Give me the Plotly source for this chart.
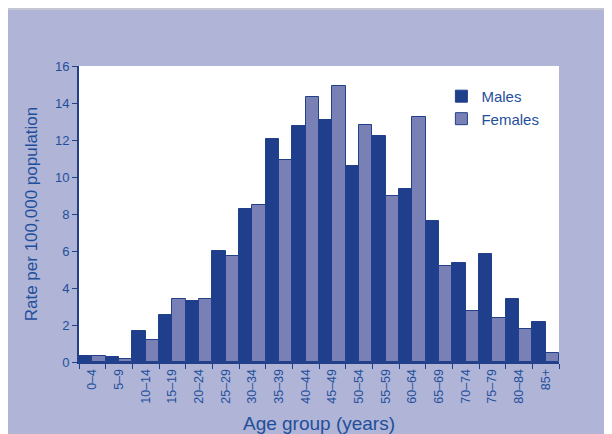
import plotly.graph_objects as go

age_groups = ["0–4", "5–9", "10–14", "15–19", "20–24", "25–29", "30–34", "35–39", "40–44",
              "45–49", "50–54", "55–59", "60–64", "65–69", "70–74", "75–79", "80–84", "85+"]
males = [0.32, 0.29, 1.70, 2.56, 3.30, 6.00, 8.25, 12.04, 12.76, 13.10, 10.60, 12.20, 9.37,
         7.62, 5.33, 5.86, 3.41, 2.18]
females = [0.33, 0.15, 1.17, 3.41, 3.39, 5.75, 8.50, 10.94, 14.32, 14.90, 12.81, 8.96, 13.24,
           5.21, 2.74, 2.38, 1.80, 0.49]
y_ticks = [0, 2, 4, 6, 8, 10, 12, 14, 16]

band = "#b0b4d6"
male_c = "#1f3f8c"
female_c = "#7880b5"
line_c = "#22408a"
text_c = "#1f4f9c"

fig = go.Figure()
fig.add_trace(go.Bar(x=age_groups, y=males, name="Males",
                     marker=dict(color=male_c, line=dict(color=line_c, width=1))))
fig.add_trace(go.Bar(x=age_groups, y=females, name="Females",
                     marker=dict(color=female_c, line=dict(color=line_c, width=1))))

W, H = 604, 426
L, R, T, B = 71, 53, 58, 72
ph = H - T - B

fig.update_layout(
    width=W, height=H,
    margin=dict(l=L, r=R, t=T, b=B),
    paper_bgcolor=band,
    plot_bgcolor="white",
    barmode="group",
    bargap=0, bargroupgap=0,
    font=dict(family="Liberation Sans, Arial, sans-serif", color=text_c),
    showlegend=True,
    legend=dict(x=0.755, y=0.953, xanchor="left", yanchor="top", bgcolor="rgba(0,0,0,0)",
                font=dict(size=15, color=text_c), itemwidth=30, tracegroupgap=0),
    shapes=[
        dict(type="line", xref="paper", yref="paper", x0=-0.2, x1=1.2,
             y0=1 + (T - 1) / ph, y1=1 + (T - 1) / ph,
             line=dict(color="#c4c6d4", width=2), layer="below"),
    ],
)
fig.update_xaxes(
    type="category", tickson="boundaries", ticks="outside", ticklen=5, tickcolor=line_c,
    showline=True, linecolor=line_c, linewidth=2, tickangle=-90, automargin=False,
    tickfont=dict(size=12.5, color=text_c, family="Liberation Sans, Arial, sans-serif"),
    title=dict(text="Age group (years)", font=dict(size=19, color=text_c), standoff=15),
    showgrid=False,
)
fig.update_yaxes(
    range=[0, 16], tickvals=y_ticks, ticks="outside", ticklen=5, tickcolor=line_c,
    showline=True, linecolor=line_c, linewidth=2, showgrid=False, zeroline=False, automargin=False,
    tickfont=dict(size=13, color=text_c, family="Liberation Sans, Arial, sans-serif"),
    title=dict(text="Rate per 100,000 population", font=dict(size=17, color=text_c), standoff=13),
)

fig.write_html("out.html")
